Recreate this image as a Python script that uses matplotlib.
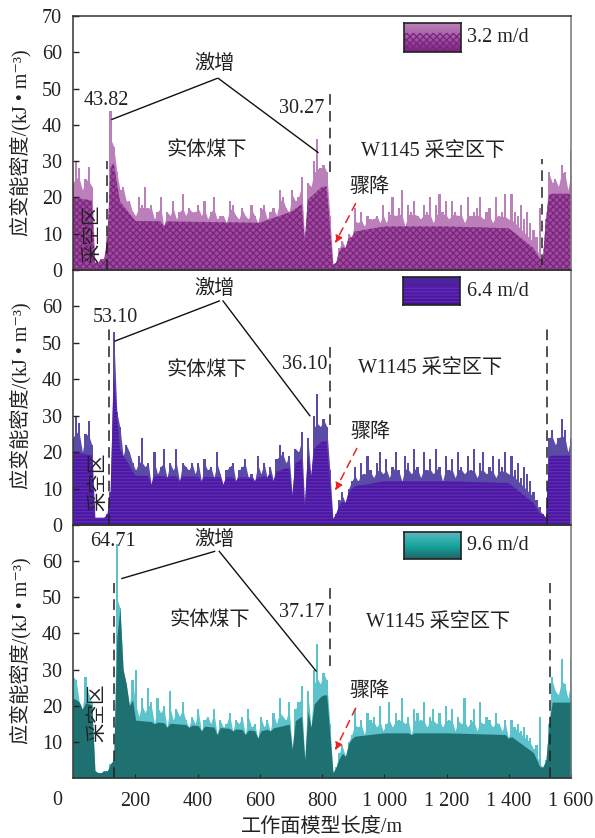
import numpy as np
import matplotlib
matplotlib.use("Agg")
import matplotlib.pyplot as plt
from matplotlib.colors import LinearSegmentedColormap
from matplotlib.patches import Rectangle

plt.rcParams['font.family'] = ['Liberation Serif', 'Noto Sans CJK SC', 'DejaVu Sans']
plt.rcParams['hatch.linewidth'] = 0.9

W, H = 595, 838

# valores, um ponto a cada 10 m
v32 = [24,30,28,22,25,28.5,23,2,2,3,
       3,9,43.82,34,27,22,23,19,19,16,
       15,20,18,23,17,18,14,16,20,12,
       16,15,19,14,16,21,15,17,16,16,
       18,15,19,14,16,20,14,15,15,13,
       19,18,15,14,17,15,14,18,15,13,
       17,18,14,16,17,15,22,20,17,16,
       22,19,20,25.5,8,24,23,30,36,28,
       29,27,15,1.5,2,6,8,6,10,9,
       17,13,16,12,15,14,14,15,13,18,
       13,16,20,15,17,22,12,18,16,19,
       15,14,18,16,20,13,18,21,16,19,
       14,19,16,15,18,13,20,15,16,17,
       20,14,16,17,13,20,15,16,21,14,
       21,16,15,18,14,16,13,11,9,17,
       3,14,27,24,25,23,29,27,22,33]
v64 = [24,30,28,20,25,28.5,22,2,2,2,
       2,3,9,53.10,31,27,19,22,20,17,
       15,19,24,16,17,11,20,14,16,21,
       13,17,15,21,12,17,16,15,17,14,
       17,12,18,15,16,13,20,14,11,15,
       16,17,12,15,16,18,13,14,12,19,
       14,17,13,16,12,18,22,20,17,19,
       8,21,20,25.5,5,24,13,30,36,27,
       29,27,15,1.5,3,7,9,6,10,12,
       16,12,17,14,19,15,13,17,20,14,
       18,13,16,20,15,12,19,17,14,21,
       16,13,20,15,18,14,21,16,12,19,
       15,18,13,20,16,14,19,15,21,13,
       17,20,14,16,19,13,18,16,20,14,
       19,15,17,13,16,14,12,9,7,5,
       3,2,24,26,22,24,29,26,20,24]
v96 = [29.5,27,21,19,28,23,21,2,1.5,1.5,
       2,2,4,5,64.71,47,30,26,20,27,
       30,17,22,18,25,21,15,22,18,20,
       14,24,16,19,17,21,16,14,17,15,
       19,13,16,17,15,19,12,16,14,15,
       18,13,16,15,17,12,19,14,15,11,
       17,14,16,13,18,15,22,17,16,21,
       8,19,21,25.5,5,24,14,30,37.17,26,
       29,27,15,1.5,3,7,9,6,10,12,
       19,14,16,12,18,16,17,14,20,13,
       15,21,14,18,16,22,15,17,12,19,
       18,16,21,14,17,19,15,18,14,20,
       16,19,13,17,15,22,14,16,19,13,
       21,15,17,16,14,18,15,13,16,11,
       16,14,15,13,14,12,11,8,9,17,
       3,5,15,28,24,23,33,26,22,33]

# topo da parte escura de cada curva
core_x = [0,70,130,150,200,600,700,750,800,820,830,900,1000,1200,1400,1480,1500,1530,1600]
core32 = [20,19,30,19,13.5,13,16,19,23,23,2,10.5,12,12,11.5,6,3,21,21]
core64 = [20,19,42,21,13.5,13,16,19,23,23,2,10.5,12,12,11.5,6,3,19,19]
core96 = [22,20,28,48,16,13,15,18,23,23,2,11.5,12.5,12.5,12,7,3,21,21]

labels = ["3.2 m/d", "6.4 m/d", "9.6 m/d"]
peaks = [("43.82", 106, 46.7, "30.27", 736, 44.5),
         ("53.10", 135, 57, "36.10", 745, 44),
         ("64.71", 128, 65.5, "37.17", 736, 45.9)]
surge_xy = [(456, 56.6), (456, 64.6), (453, 65.7)]
surge_l = [[(125, 41.5), (463, 52.8)], [(135, 50.5), (470, 61.5)], [(157, 55.2), (455, 62.7)]]
surge_r = [[(467, 52.8), (787, 32.4)], [(482, 61.5), (761, 30)], [(470, 62.7), (781, 29.6)]]
solid_xy = [(430, 33), (430, 42.3), (440, 43.6)]
goaf_xy = [(1157, 32.6), (1147, 43), (1172, 43)]
drop_xy = [(954, 22.7), (957, 25.3), (954, 23.8)]
arrow = [((912, 19), (838, 6.7)), ((916, 21.7), (838, 8.8)), ((912, 20), (838, 7))]
mined_xy = [(61, 10), (80, 12), (77, 18)]
dash_a = [(109, 0, 30), (116, 0, 54), (132, 0, 54)]
dash_b = [(826, 27, 50), (826, 27.5, 50.2), (826, 31, 54)]
dash_c = [(1507, 1.5, 30.5), (1523, 0, 54), (1533, 0, 54)]

light = ["#bb7fba", "#5a4ca6", "#5cc3cc"]
dark = ["#9c4a9a", "#4b18a0", "#1f7070"]
hatch_col = ["#7a2380", "#5f2bb8", None]
hatches = ["xxxxx", "-----", None]
leg_top = ["#bd82ba", "#4a2a9a", "#58b8bf"]
leg_mid = ["#a45aa3", "#5318a8", "#18a69e"]
leg_bot = ["#7a2380", "#40128a", "#1f6468"]

tops = [16, 270, 525]
bots = [270, 525, 778]
leg_px = [(404, 23, 461, 52), (403, 277, 460, 305), (404, 532, 461, 559)]
series = [v32, v64, v96]
cores = [core32, core64, core96]
yticks = [np.arange(0, 71, 10), np.arange(0, 61, 10), np.arange(10, 61, 10)]

fig = plt.figure(figsize=(W / 100, H / 100), dpi=100)
FS = 14.5
TXT = "#222222"

for i in range(3):
    ax = fig.add_axes([73 / W, 1 - bots[i] / H, (571 - 73) / W, (bots[i] - tops[i]) / H])
    vals = np.array(series[i], dtype=float)
    x = np.linspace(0, 1600, len(vals))
    env = np.interp(x, core_x, cores[i])
    core = np.minimum(vals, env)
    fringe = np.minimum(vals, env * 1.28)

    # picos finos claros sobre a massa escura
    ax.bar(x, vals, width=7, color=light[i], linewidth=0)
    ax.fill_between(x, fringe, color=light[i], linewidth=0)
    if hatches[i]:
        ax.fill_between(x, core, facecolor=dark[i], edgecolor=hatch_col[i],
                        hatch=hatches[i], linewidth=0)
    else:
        ax.fill_between(x, core, color=dark[i], linewidth=0)

    ax.set_xlim(0, 1600)
    ax.set_ylim(0, 70)
    ax.set_yticks(yticks[i])
    ax.tick_params(axis="y", direction="in", length=4, width=1, labelsize=FS, pad=8, colors=TXT)
    ax.patch.set_alpha(0)
    for s in ["top", "left", "bottom"]:
        ax.spines[s].set_color("#333333")
        ax.spines[s].set_linewidth(1.1)
    ax.spines["right"].set_color("#777777")
    ax.spines["right"].set_linewidth(1.1)

    if i == 2:
        ax.set_xticks(np.arange(200, 1601, 200))
        ax.set_xticklabels(["200", "400", "600", "800", "1 000", "1 200", "1 400", "1 600"])
        ax.tick_params(axis="x", direction="in", length=3, labelsize=FS, pad=10, colors=TXT)
        ax.text(-51, -6.2, "0", ha="center", va="center", fontsize=FS, color=TXT)
    else:
        ax.set_xticks([])

    # anotações
    p = peaks[i]
    ax.text(p[1], p[2], p[0], ha="center", va="center", fontsize=FS, color=TXT)
    ax.text(p[4], p[5], p[3], ha="center", va="center", fontsize=FS, color=TXT)
    ax.text(*surge_xy[i], "激增", ha="center", va="center", fontsize=14.5, color=TXT)
    for seg in (surge_l[i], surge_r[i]):
        ax.plot(*zip(*seg), color="#111111", lw=1)
    ax.text(*solid_xy[i], "实体煤下", ha="center", va="center", fontsize=14.5, color=TXT)
    ax.text(*goaf_xy[i], "W1145 采空区下", ha="center", va="center", fontsize=14.5, color=TXT)
    ax.text(*drop_xy[i], "骤降", ha="center", va="center", fontsize=14.5, color=TXT)
    ax.text(*mined_xy[i], "采空区", rotation=90, ha="center", va="center", fontsize=14, color=TXT)
    ax.annotate("", xy=arrow[i][1], xytext=arrow[i][0],
                arrowprops=dict(arrowstyle="-|>", color="#ee2222", lw=1.1,
                                linestyle=(0, (5, 4)), mutation_scale=11))
    for dx, y0, y1 in (dash_a[i], dash_b[i], dash_c[i]):
        ax.plot([dx, dx], [y0, y1], color="#222222", lw=1.1, ls=(0, (7, 4)))

    # legenda
    x0, y0, x1, y1 = leg_px[i]
    lax = fig.add_axes([x0 / W, 1 - y1 / H, (x1 - x0) / W, (y1 - y0) / H])
    cmap = LinearSegmentedColormap.from_list("leg", [leg_top[i], leg_mid[i], leg_bot[i]])
    lax.imshow(np.linspace(0, 1, 64).reshape(-1, 1), aspect="auto", cmap=cmap, extent=(0, 1, 0, 1))
    if hatches[i]:
        lax.add_patch(Rectangle((0, 0), 1, 0.65, fill=False, hatch=hatches[i],
                                edgecolor=hatch_col[i], linewidth=0))
    lax.set_xticks([])
    lax.set_yticks([])
    for s in lax.spines.values():
        s.set_color("#222222")
        s.set_linewidth(1.2)
    fig.text(467 / W, 1 - (y0 + y1) / 2 / H, labels[i], ha="left", va="center", fontsize=FS, color=TXT)

ycent = [143, 396, 651]
for yc in ycent:
    fig.text(21 / W, 1 - yc / H, "应变能密度/(kJ • m⁻³)", rotation=90, ha="center", va="center",
             fontsize=14.5, color=TXT)
fig.text(322 / W, 1 - 827 / H, "工作面模型长度/m", ha="center", va="center", fontsize=14.5, color=TXT)

fig.savefig("out.png", dpi=100)
plt.close(fig)
